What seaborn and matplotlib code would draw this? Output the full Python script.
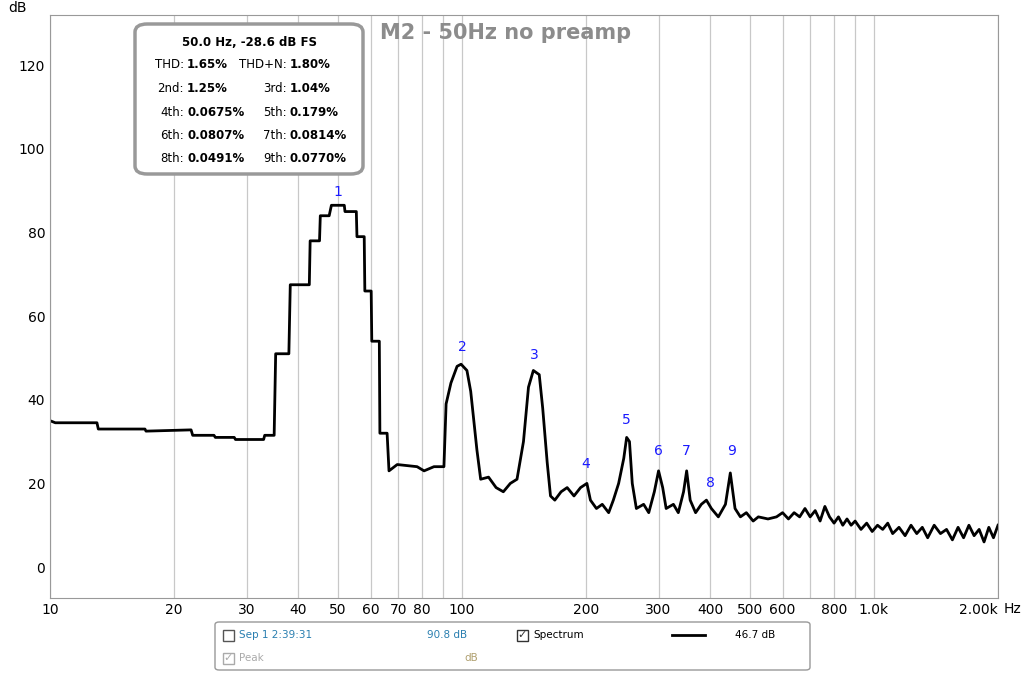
import matplotlib
matplotlib.use("Agg")
import matplotlib.pyplot as plt
from matplotlib.patches import FancyBboxPatch
import seaborn as sns
import pandas as pd

freq = [10, 10.3, 13, 13.1, 17, 17.1, 22, 22.2, 25, 25.2, 28, 28.2, 33, 33.2, 35, 35.3, 38, 38.3,
        42.6, 42.8, 45.1, 45.3, 47.6, 48.2, 51.8, 52.0, 55.4, 55.6, 57.9, 58.1, 60.2, 60.4, 63, 63.2,
        65.8, 66.5, 69.6, 69.8, 77.8, 80.9, 85.5, 90.4, 91.5, 94, 97.3, 99.5, 102.8, 105, 108.7,
        111, 116, 121, 126, 131, 136, 141, 145, 149, 154, 157, 161, 164, 168, 174, 180, 187, 194,
        201, 205, 212, 219, 227, 233, 240, 247, 251, 255, 259, 265, 276, 284, 293, 300, 307, 313,
        326, 335, 345, 351, 358, 369, 381, 392, 403, 419, 436, 448, 460, 474, 490, 509, 524, 553,
        580, 600, 620, 640, 660, 680, 700, 720, 740, 760, 780, 800, 820, 840, 860, 880, 900, 930,
        960, 990, 1020, 1050, 1080, 1110, 1150, 1190, 1230, 1270, 1310, 1350, 1400, 1450, 1500,
        1550, 1600, 1650, 1700, 1750, 1800, 1850, 1900, 1950, 2000]
level = [35, 34.5, 34.5, 33, 33, 32.5, 32.8, 31.5, 31.5, 31, 31, 30.5, 30.5, 31.5, 31.5, 51, 51, 67.5,
         67.5, 78, 78, 84, 84, 86.5, 86.5, 85, 85, 79, 79, 66, 66, 54, 54, 32,
         32, 23, 24.5, 24.5, 24, 23, 24, 24, 39, 44, 48, 48.5, 47, 42, 28,
         21, 21.5, 19, 18, 20, 21, 30, 43, 47, 46, 38, 25, 17, 16, 18, 19, 17, 19,
         20, 16, 14, 15, 13, 16, 20, 26, 31, 30, 20, 14, 15, 13, 18, 23, 19, 14,
         15, 13, 18, 23, 16, 13, 15, 16, 14, 12, 15, 22.5, 14, 12, 13, 11, 12, 11.5,
         12, 13, 11.5, 13, 12, 14, 12, 13.5, 11, 14.5, 12, 10.5, 12, 10, 11.5, 10, 11, 9,
         10.5, 8.5, 10, 9, 10.5, 8, 9.5, 7.5, 10, 8, 9.5, 7, 10, 8, 9,
         6.5, 9.5, 7, 10, 7.5, 9, 6, 9.5, 7, 10]

harm_labels = ["1", "2", "3", "4", "5", "6", "7", "8", "9"]
harm_freq = [50, 100, 150, 200, 250, 300, 350, 400, 450]
harm_db = [88, 51, 49, 23, 33.5, 26, 26, 18.5, 26]

xticks = [10, 20, 30, 40, 50, 60, 70, 80, 100, 200, 300, 400, 500, 600, 800, 1000, 2000]
xticklabels = ["10", "20", "30", "40", "50", "60", "70", "80", "100", "200", "300", "400",
               "500", "600", "800", "1.0k", "2.00k"]
minor_x = [90, 700, 900]
yticks = [0, 20, 40, 60, 80, 100, 120]

df = pd.DataFrame({"f": freq, "db": level})

fig = plt.figure(figsize=(10.24, 6.73), dpi=100)
ax = fig.add_axes([50/1024, 75/673, 948/1024, 583/673])
ax.set_xscale("log")
sns.lineplot(data=df, x="f", y="db", ax=ax, color="black", lw=2, sort=False)
ax.set_xlim(10, 2000)
ax.set_ylim(-7.4, 132)
ax.set_xticks(xticks)
ax.set_xticklabels(xticklabels, fontsize=10)
ax.get_xticklabels()[-1].set_horizontalalignment("right")
ax.set_xticks([], minor=True)
ax.set_yticks(yticks)
ax.tick_params(labelsize=10, length=0)
ax.set_xlabel(""); ax.set_ylabel("")
ax.grid(True, axis="x", color="#c8c8c8", lw=0.9)
for m in minor_x:
    ax.axvline(m, color="#c8c8c8", lw=0.9, zorder=0)
ax.set_axisbelow(True)
for s in ax.spines.values():
    s.set_color("#999999")
for lab, f, d in zip(harm_labels, harm_freq, harm_db):
    ax.text(f, d, lab, color="#1a1aff", ha="center", va="bottom", fontsize=10)
fig.text(1004/1024, 1 - 609/673, "Hz", fontsize=10, va="center", ha="left")
fig.text(8/1024, 1 - 8/673, "dB", fontsize=10, va="center")
fig.text(380/1024, 1 - 33/673, "M2 - 50Hz no preamp", fontsize=15, fontweight="bold",
         color="#8c8c8c", va="center")

# info box
fig.patches.append(FancyBboxPatch((135/1024, 1 - 174/673), 228/1024, 150/673,
                                  boxstyle="round,pad=0,rounding_size=0.012",
                                  transform=fig.transFigure, fc="white", ec="#999999", lw=2.5))
fig.text(249/1024, 1 - 42/673, "50.0 Hz, -28.6 dB FS", ha="center", va="center",
         fontsize=8.5, fontweight="bold")
rows = [("THD:", "1.65%", "THD+N:", "1.80%"), ("2nd:", "1.25%", "3rd:", "1.04%"),
        ("4th:", "0.0675%", "5th:", "0.179%"), ("6th:", "0.0807%", "7th:", "0.0814%"),
        ("8th:", "0.0491%", "9th:", "0.0770%")]
for i, (a, b, c, d) in enumerate(rows):
    y = 1 - (65 + i * 23.5) / 673
    fig.text(184/1024, y, a, ha="right", va="center", fontsize=8.5)
    fig.text(187/1024, y, b, ha="left", va="center", fontsize=8.5, fontweight="bold")
    fig.text(287/1024, y, c, ha="right", va="center", fontsize=8.5)
    fig.text(290/1024, y, d, ha="left", va="center", fontsize=8.5, fontweight="bold")

# legend box
fig.patches.append(FancyBboxPatch((215/1024, 1 - 670/673), 595/1024, 48/673,
                                  boxstyle="round,pad=0,rounding_size=0.004",
                                  transform=fig.transFigure, fc="white", ec="#999999", lw=1))
def cb(x, y, checked, col):
    fig.patches.append(plt.Rectangle((x/1024, 1 - (y + 6)/673), 11/1024, 11/673,
                                     transform=fig.transFigure, fc="white", ec=col, lw=1))
    if checked:
        fig.text((x + 5.5)/1024, 1 - y/673, "✓", ha="center", va="center", fontsize=8, color=col)
cb(223, 635, False, "#555555")
cb(223, 658, True, "#aaaaaa")
cb(517, 635, True, "#333333")
fig.text(239/1024, 1 - 635/673, "Sep 1 2:39:31", fontsize=7.5, color="#2a7fb0", va="center")
fig.text(239/1024, 1 - 658/673, "Peak", fontsize=7.5, color="#aaaaaa", va="center")
fig.text(427/1024, 1 - 635/673, "90.8 dB", fontsize=7.5, color="#2a7fb0", va="center")
fig.text(464/1024, 1 - 658/673, "dB", fontsize=7.5, color="#b0a070", va="center")
fig.text(533/1024, 1 - 635/673, "Spectrum", fontsize=7.5, va="center")
fig.lines.append(plt.Line2D([672/1024, 705/1024], [1 - 635/673] * 2, color="black", lw=2,
                            transform=fig.transFigure))
fig.text(735/1024, 1 - 635/673, "46.7 dB", fontsize=7.5, va="center")

fig.savefig("out.png", dpi=100)
